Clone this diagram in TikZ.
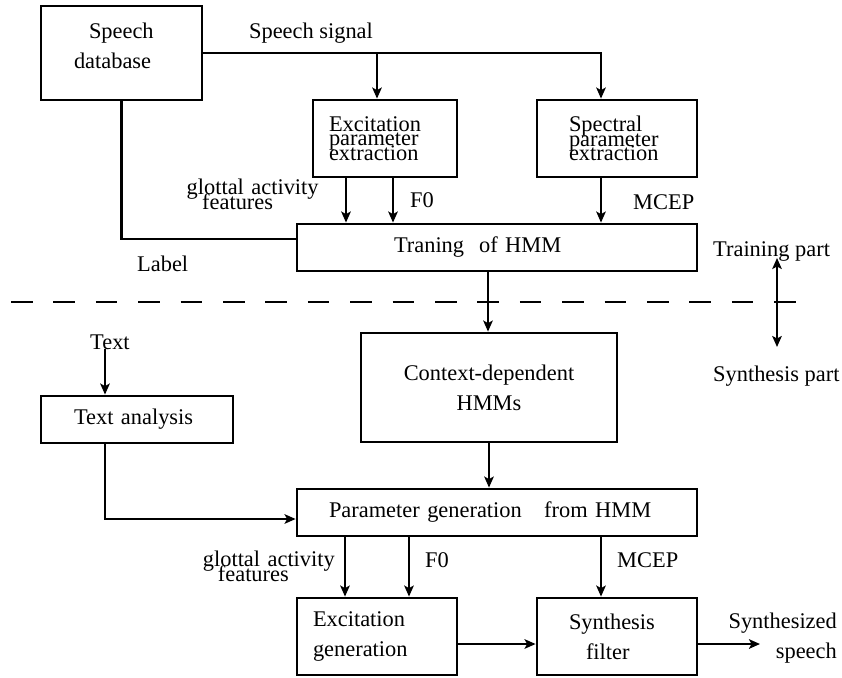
\documentclass[tikz,border=0pt]{standalone}
\usepackage{fontspec}
\setmainfont{Liberation Serif}
\usetikzlibrary{arrows.meta}
\newcommand\mainfs{\fontsize{22.4}{30}\selectfont}
\newcommand\tightfs{\fontsize{22.4}{14.5}\selectfont\lineskiplimit=-100pt\lineskip=0pt}
\begin{document}
\begin{tikzpicture}[x=1pt,y=-1pt,
  box/.style={draw, line width=2.8pt, inner ysep=0pt, font=\mainfs},
  lbl/.style={inner sep=0pt, font=\mainfs},
  conn/.style={line width=2.2pt},
  tip/.tip={Stealth[length=11pt,width=9.5pt,inset=2.5pt]},
  arr/.style={conn, -tip},
]
\fill[white] (0,0) rectangle (842,677);
\useasboundingbox (0,0) rectangle (842,677);

% boxes
\node[box, minimum width=161pt, minimum height=94pt, inner xsep=33pt, text width=95pt, align=left, text height=15pt, text depth=45pt] (sdb) at (121.5,53) {\hspace*{15pt}Speech\\database};
\node[box, minimum width=144pt, minimum height=77pt, inner xsep=16pt, text width=112pt, align=left, font=\tightfs] (exc) at (385,138.5) {Excitation\\parameter\\extraction};
\node[box, minimum width=160pt, minimum height=77pt, inner xsep=32pt, text width=96pt, align=left, font=\tightfs] (spec) at (617,138.5) {Spectral\\parameter\\extraction};
\node[box, minimum width=400pt, minimum height=47pt, inner xsep=97pt, text width=206pt, align=left] (train) at (497,247.5) {Traning\ \ of HMM};
\node[box, minimum width=256pt, minimum height=109pt, align=center] (ctx) at (489,387.5) {Context-dependent\\HMMs};
\node[box, minimum width=192pt, minimum height=47pt, inner xsep=33pt, text width=126pt, align=left] (tana) at (137,419.5) {Text analysis};
\node[box, minimum width=400pt, minimum height=47pt, inner xsep=32pt, text width=336pt, align=left] (pgen) at (497,512.5) {Parameter generation\ \ \ from HMM};
\node[box, minimum width=160pt, minimum height=77pt, inner xsep=16pt, text width=128pt, align=left] (excg) at (377,636.5) {Excitation\\generation};
\node[box, minimum width=160pt, minimum height=77pt, inner xsep=32pt, text width=96pt, align=left] (sfil) at (617,636.5) {Synthesis\\\hspace*{17pt}filter};

% labels
\node[lbl, anchor=base] (sig) at (311,38) {Speech signal};
\node[lbl, anchor=base west, text width=140pt, align=left, font=\tightfs] (gaf1) at (186.5,194.5) {glottal activity\\\hspace*{15.5pt}features};
\node[lbl, anchor=base west] (f0a) at (410,207.5) {F0};
\node[lbl, anchor=base west] (mcep1) at (633,209) {MCEP};
\node[lbl, anchor=base west] (lab) at (137,271) {Label};
\node[lbl, anchor=base west] (trp) at (713,256) {Training part};
\node[lbl, anchor=base west] (synp) at (713,381) {Synthesis part};
\node[lbl, anchor=base west] (txt) at (90,349) {Text};
\node[lbl, anchor=base west, text width=140pt, align=left, font=\tightfs] (gaf2) at (202.7,566.7) {glottal activity\\\hspace*{15pt}features};
\node[lbl, anchor=base west] (f0b) at (425,567) {F0};
\node[lbl, anchor=base west] (mcep2) at (617,567) {MCEP};
\node[lbl, anchor=base east, text width=115pt, align=right] (synsp) at (837,628) {Synthesized\\speech};

% coordinates
\coordinate (s1) at (377,53);
\coordinate (s2) at (601,53);
\coordinate (e1) at ([xshift=-39pt]exc.south);
\coordinate (e2) at ([xshift=8pt]exc.south);
\coordinate (e3) at ([xshift=-16pt]spec.south);
\coordinate (t1) at ([xshift=-9pt]train.south);
\coordinate (ta) at ([xshift=-32pt]tana.north);
\coordinate (tb) at ([xshift=-32pt]tana.south);
\coordinate (p1) at ([xshift=-152pt]pgen.south);
\coordinate (p2) at ([xshift=-88pt]pgen.south);
\coordinate (p3) at ([xshift=104pt]pgen.south);
\coordinate (out) at (760,644);
\coordinate (dl) at (11,302);
\coordinate (dr) at (798,302);
\coordinate (da) at (777,258);
\coordinate (db) at (777,347);

% connectors
\draw[arr] (sdb.east) -| (spec.north -| s2);
\draw[arr] (s1) -- (exc.north -| s1);
\draw[arr] (e1) -- (e1 |- train.north);
\draw[arr] (e2) -- (e2 |- train.north);
\draw[arr] (e3) -- (e3 |- train.north);
\draw[conn] (sdb.south) |- ([yshift=8.5pt]train.west);
\draw[arr] (t1) -- (t1 |- ctx.north);
\draw[arr] (ctx.south) -- (ctx.south |- pgen.north);
\draw[arr] (ta |- txt.base) -- (ta);
\draw[arr] (tb) |- ([yshift=-6.5pt]pgen.west);
\draw[arr] (p1) -- (p1 |- excg.north);
\draw[arr] (p2) -- (p2 |- excg.north);
\draw[arr] (p3) -- (p3 |- sfil.north);
\draw[arr] ([yshift=-7.5pt]excg.east) -- ([yshift=-7.5pt]sfil.west);
\draw[arr] ([yshift=-7.5pt]sfil.east) -- (out);
\draw[line width=2.5pt, dash pattern=on 21.5pt off 20.9pt] (dl) -- (dr);
\draw[conn, tip-tip] (da) -- (db);
\end{tikzpicture}
\end{document}
